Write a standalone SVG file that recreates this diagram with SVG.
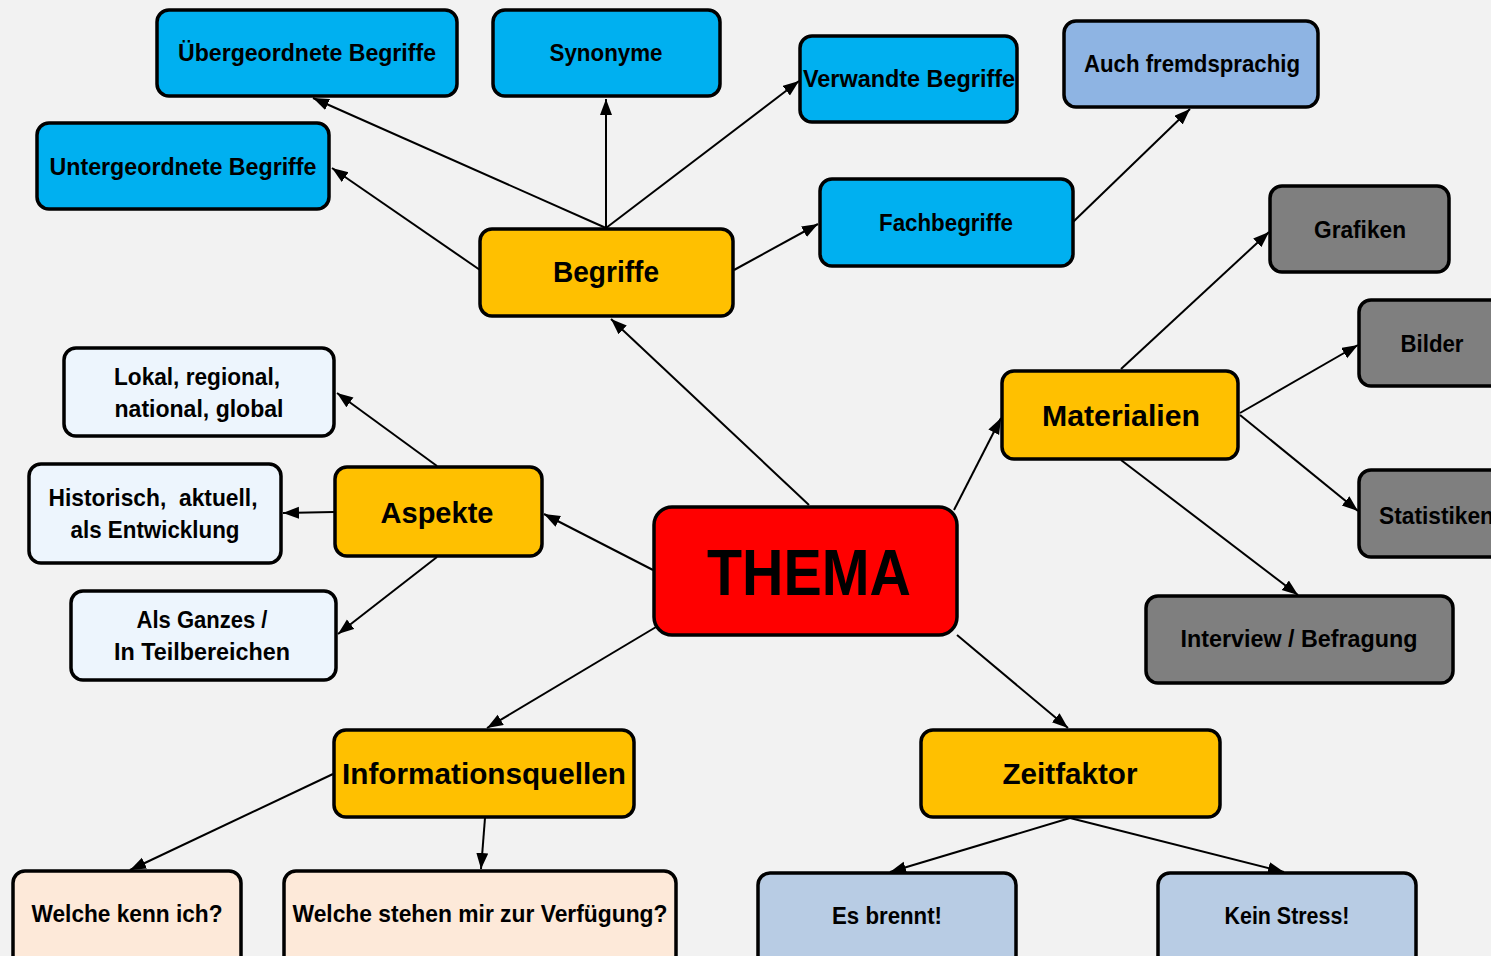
<svg xmlns="http://www.w3.org/2000/svg" width="1491" height="956" viewBox="0 0 1491 956">
<defs>
<marker id="ah" markerUnits="userSpaceOnUse" markerWidth="18" markerHeight="14" refX="16" refY="6" orient="auto">
<path d="M0,0 L16,6 L0,12 z" fill="#000"/>
</marker>
<style>
.n rect{stroke:#000;stroke-width:3.5}
.blue rect{fill:#00B0F0}
.lblue rect{fill:#8EB4E3}
.gray rect{fill:#7F7F7F}
.orange rect{fill:#FFC000}
.white rect{fill:#EDF5FD}
.peach rect{fill:#FDE9D9}
.steel rect{fill:#B8CCE4}
.red rect{fill:#FF0000}
text{font-family:"Liberation Sans",Arial,sans-serif;font-weight:bold;fill:#000;text-anchor:middle}
.s{font-size:24px}
.m{font-size:30px}
.big{font-size:64px}
#edges line{stroke:#000;stroke-width:2;marker-end:url(#ah)}
</style>
</defs>
<rect x="0" y="0" width="1491" height="956" fill="#F2F2F2"/>
<g id="edges">
<line x1="809" y1="505" x2="611" y2="319"/>
<line x1="606" y1="228" x2="313" y2="98"/>
<line x1="606" y1="228" x2="606" y2="99"/>
<line x1="606" y1="228" x2="799" y2="81"/>
<line x1="480" y1="270" x2="332" y2="168"/>
<line x1="734" y1="270" x2="818" y2="224"/>
<line x1="1073" y1="222" x2="1190" y2="109"/>
<line x1="1121" y1="369" x2="1269" y2="232"/>
<line x1="1240" y1="413" x2="1358" y2="345"/>
<line x1="1240" y1="415" x2="1358" y2="511"/>
<line x1="1121" y1="460" x2="1298" y2="595"/>
<line x1="954" y1="510" x2="1001" y2="418"/>
<line x1="653" y1="570" x2="544" y2="514"/>
<line x1="437" y1="466" x2="337" y2="393"/>
<line x1="334" y1="512" x2="283" y2="513"/>
<line x1="437" y1="557" x2="338" y2="634"/>
<line x1="656" y1="627" x2="487" y2="728"/>
<line x1="333" y1="774" x2="130" y2="870"/>
<line x1="485" y1="818" x2="481" y2="869"/>
<line x1="957" y1="635" x2="1068" y2="728"/>
<line x1="1070" y1="818" x2="890" y2="872"/>
<line x1="1070" y1="818" x2="1284" y2="872"/>
</g>
<g id="uebergeordnete" class="n blue"><rect x="157" y="10" width="300" height="86" rx="12"/><text class="s" x="307" y="61" textLength="258" lengthAdjust="spacingAndGlyphs">Übergeordnete Begriffe</text></g>
<g id="synonyme" class="n blue"><rect x="493" y="10" width="227" height="86" rx="12"/><text class="s" x="606" y="61" textLength="113" lengthAdjust="spacingAndGlyphs">Synonyme</text></g>
<g id="verwandte" class="n blue"><rect x="800" y="36" width="217" height="86" rx="12"/><text class="s" x="909" y="87" textLength="212" lengthAdjust="spacingAndGlyphs">Verwandte Begriffe</text></g>
<g id="fremdsprachig" class="n lblue"><rect x="1064" y="21" width="254" height="86" rx="12"/><text class="s" x="1192" y="72" textLength="216" lengthAdjust="spacingAndGlyphs">Auch fremdsprachig</text></g>
<g id="untergeordnete" class="n blue"><rect x="37" y="123" width="292" height="86" rx="12"/><text class="s" x="183" y="175" textLength="267" lengthAdjust="spacingAndGlyphs">Untergeordnete Begriffe</text></g>
<g id="fachbegriffe" class="n blue"><rect x="820" y="179" width="253" height="87" rx="12"/><text class="s" x="946" y="231" textLength="134" lengthAdjust="spacingAndGlyphs">Fachbegriffe</text></g>
<g id="grafiken" class="n gray"><rect x="1270" y="186" width="179" height="86" rx="12"/><text class="s" x="1360" y="238" textLength="92" lengthAdjust="spacingAndGlyphs">Grafiken</text></g>
<g id="begriffe" class="n orange"><rect x="480" y="229" width="253" height="87" rx="12"/><text class="m" x="606" y="282" textLength="106" lengthAdjust="spacingAndGlyphs">Begriffe</text></g>
<g id="bilder" class="n gray"><rect x="1359" y="300" width="170" height="86" rx="12"/><text class="s" x="1432" y="352" textLength="63" lengthAdjust="spacingAndGlyphs">Bilder</text></g>
<g id="materialien" class="n orange"><rect x="1002" y="371" width="236" height="88" rx="12"/><text class="m" x="1121" y="426" textLength="158" lengthAdjust="spacingAndGlyphs">Materialien</text></g>
<g id="statistiken" class="n gray"><rect x="1359" y="470" width="170" height="87" rx="12"/><text class="s" x="1379" y="524" style="text-anchor:start" textLength="115" lengthAdjust="spacingAndGlyphs">Statistiken</text></g>
<g id="interview" class="n gray"><rect x="1146" y="596" width="307" height="87" rx="12"/><text class="s" x="1299" y="647" textLength="237" lengthAdjust="spacingAndGlyphs">Interview / Befragung</text></g>
<g id="thema" class="n red"><rect x="654" y="507" width="303" height="128" rx="18"/><text class="big" x="809" y="595" textLength="204" lengthAdjust="spacingAndGlyphs">THEMA</text></g>
<g id="lokal" class="n white"><rect x="64" y="348" width="270" height="88" rx="12"/><text class="s" x="197" y="385" textLength="166" lengthAdjust="spacingAndGlyphs">Lokal, regional,</text><text class="s" x="199" y="417" textLength="169" lengthAdjust="spacingAndGlyphs">national, global</text></g>
<g id="historisch" class="n white"><rect x="29" y="464" width="252" height="99" rx="12"/><text class="s" x="153" y="506" textLength="209" lengthAdjust="spacingAndGlyphs" xml:space="preserve">Historisch,  aktuell,</text><text class="s" x="155" y="538" textLength="169" lengthAdjust="spacingAndGlyphs">als Entwicklung</text></g>
<g id="aspekte" class="n orange"><rect x="335" y="467" width="207" height="89" rx="12"/><text class="m" x="437" y="523" textLength="113" lengthAdjust="spacingAndGlyphs">Aspekte</text></g>
<g id="ganzes" class="n white"><rect x="71" y="591" width="265" height="89" rx="12"/><text class="s" x="202" y="628" textLength="131" lengthAdjust="spacingAndGlyphs">Als Ganzes /</text><text class="s" x="202" y="660" textLength="176" lengthAdjust="spacingAndGlyphs">In Teilbereichen</text></g>
<g id="informationsquellen" class="n orange"><rect x="334" y="730" width="300" height="87" rx="12"/><text class="m" x="484" y="784" textLength="284" lengthAdjust="spacingAndGlyphs">Informationsquellen</text></g>
<g id="zeitfaktor" class="n orange"><rect x="921" y="730" width="299" height="87" rx="12"/><text class="m" x="1070" y="784" textLength="135" lengthAdjust="spacingAndGlyphs">Zeitfaktor</text></g>
<g id="kenn" class="n peach"><rect x="13" y="871" width="228" height="100" rx="12"/><text class="s" x="127" y="922" textLength="191" lengthAdjust="spacingAndGlyphs">Welche kenn ich?</text></g>
<g id="verfuegung" class="n peach"><rect x="284" y="871" width="392" height="100" rx="12"/><text class="s" x="480" y="922" textLength="375" lengthAdjust="spacingAndGlyphs">Welche stehen mir zur Verfügung?</text></g>
<g id="brennt" class="n steel"><rect x="758" y="873" width="258" height="100" rx="12"/><text class="s" x="887" y="924" textLength="110" lengthAdjust="spacingAndGlyphs">Es brennt!</text></g>
<g id="stress" class="n steel"><rect x="1158" y="873" width="258" height="100" rx="12"/><text class="s" x="1287" y="924" textLength="125" lengthAdjust="spacingAndGlyphs">Kein Stress!</text></g>
</svg>
